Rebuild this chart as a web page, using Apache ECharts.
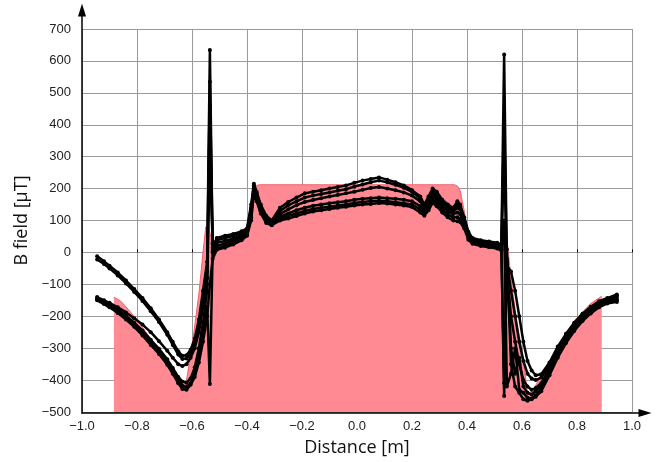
<!DOCTYPE html>
<html>
<head>
<meta charset="utf-8">
<script src="https://cdn.jsdelivr.net/npm/echarts@6/dist/echarts.min.js"></script>
<style>
  html, body { margin: 0; padding: 0; background: #fff; }
  #chart { width: 656px; height: 462px; }
</style>
</head>
<body>
<div id="chart"></div>
<script>
// shared distance positions of the measured traces [m]
const distance = [
  -0.945, -0.92, -0.90, -0.87, -0.84, -0.81, -0.78, -0.75, -0.72, -0.69, -0.67, -0.65, -0.635, -0.62, -0.605, -0.59, -0.575, -0.56, -0.545, -0.535, -0.525,
  -0.51, -0.48, -0.45, -0.42, -0.40,
  -0.385, -0.375, -0.365, -0.35, -0.33, -0.31,
  -0.28, -0.25, -0.22, -0.19, -0.16, -0.13, -0.10, -0.07, -0.04, -0.01, 0.02, 0.05, 0.08, 0.11, 0.14, 0.17, 0.20, 0.23, 0.245, 0.26, 0.275, 0.29, 0.31, 0.33, 0.35, 0.365, 0.375,
  0.39, 0.405, 0.42, 0.45, 0.48, 0.51, 0.525,
  0.535, 0.545,
  0.56, 0.575, 0.59, 0.605, 0.62, 0.635, 0.65, 0.67, 0.70, 0.73, 0.76, 0.79, 0.82, 0.85, 0.88, 0.91, 0.945
];

// B field traces [uT]
const traceA = [
  -12, -28, -42, -63, -88, -115, -143, -175, -210, -250, -280, -310, -324, -322, -305, -270, -210, -120, -30, 634, 15,
  45, 52, 58, 66, 75,
  150, 215, 190, 150, 115, 100,
  140, 158, 172, 185, 190, 195, 200, 205, 210, 218, 225, 230, 235, 228, 220, 210, 195, 175, 150, 175, 200, 190, 165, 150, 140, 160, 150,
  110, 65, 45, 38, 34, 30, 25,
  620, -40,
  -60, -120, -200, -280, -340, -370, -385, -382, -345, -295, -255, -220, -192, -170, -153, -143, -132
];
const traceB = [
  -22, -36, -50, -72, -97, -124, -152, -184, -218, -258, -290, -320, -334, -332, -318, -285, -235, -160, -60, 535, 25,
  38, 45, 52, 60, 70,
  140, 210, 185, 145, 110, 96,
  130, 148, 160, 172, 178, 183, 188, 193, 198, 206, 213, 220, 225, 220, 212, 203, 190, 170, 145, 168, 192, 182, 160, 145, 135, 150, 145,
  105, 60, 42, 35, 31, 27, 22,
  415, -30,
  -120, -200, -280, -340, -380, -395, -400, -392, -352, -302, -261, -226, -197, -175, -157, -146, -135
];
const traceC = [
  -140, -150, -158, -172, -188, -206, -226, -250, -278, -308, -330, -350, -356, -350, -330, -300, -250, -170, -80, 462, 5,
  30, 36, 44, 54, 65,
  130, 205, 175, 140, 105, 92,
  120, 135, 148, 158, 164, 170, 175, 180, 185, 190, 196, 202, 205, 200, 195, 188, 178, 160, 140, 160, 185, 175, 155, 140, 128, 140, 135,
  98, 55, 38, 32, 28, 23, 18,
  315, -60,
  -200, -280, -350, -400, -420, -430, -425, -410, -362, -310, -268, -232, -203, -180, -162, -150, -140
];
const traceD = [
  -143, -155, -164, -180, -198, -220, -245, -274, -302, -335, -362, -390, -405, -408, -395, -360, -300, -220, -120, 317, 30,
  20, 28, 38, 48, 60,
  120, 198, 170, 132, 100, 90,
  112, 122, 132, 140, 146, 150, 154, 157, 160, 165, 168, 170, 172, 170, 168, 165, 160, 145, 130, 148, 175, 165, 145, 130, 120, 125, 120,
  90, 50, 34, 28, 24, 19, 15,
  -410, 10,
  -300, -380, -330, -420, -440, -445, -435, -418, -370, -317, -274, -237, -207, -184, -166, -154, -146
];
const traceE = [
  -147, -158, -168, -186, -205, -228, -254, -283, -312, -345, -372, -400, -418, -422, -410, -380, -330, -260, -170, -412, 0,
  12, 20, 30, 42, 55,
  110, 192, 165, 128, 96, 87,
  106, 114, 122, 130, 136, 140, 143, 147, 150, 155, 158, 160, 162, 160, 157, 154, 150, 135, 122, 140, 165, 155, 135, 120, 110, 110, 105,
  82, 45, 30, 24, 20, 15, 10,
  -450, -20,
  -350, -420, -440, -460, -465, -458, -448, -428, -378, -323, -279, -242, -211, -188, -169, -157, -150
];
const traceF = [
  -150, -162, -172, -190, -210, -233, -260, -290, -318, -352, -380, -410, -428, -430, -415, -390, -345, -280, -200, -100, -20,
  8, 15, 25, 38, 52,
  100, 185, 160, 122, 92, 85,
  100, 106, 114, 122, 128, 132, 136, 140, 143, 147, 150, 152, 155, 153, 150, 147, 142, 125, 115, 132, 155, 145, 125, 110, 100, 98, 95,
  75, 40, 27, 20, 16, 12, 6,
  100, -420,
  -380, -300, -430, -440, -455, -460, -452, -435, -385, -330, -284, -246, -215, -191, -172, -160, -155
];

// simulated field envelope (pink area)
const envelopeX = [
  -0.884, -0.86, -0.83, -0.80, -0.75, -0.70, -0.66, -0.635, -0.62, -0.605, -0.59, -0.575, -0.56, -0.55, -0.54, -0.53, -0.515, -0.50, -0.45, -0.40, -0.39, -0.378, -0.365, -0.355,
  0.355, 0.365, 0.375, 0.39, 0.40, 0.41, 0.45, 0.50, 0.525, 0.54, 0.56, 0.58, 0.605, 0.618, 0.63, 0.645, 0.665, 0.70, 0.75, 0.80, 0.85, 0.89
];
const envelopeY = [
  -140, -152, -180, -212, -270, -335, -395, -428, -400, -320, -230, -130, 0, 80, 85, 40, 15, 20, 35, 50, 100, 190, 210, 212,
  212, 208, 195, 130, 70, 40, 28, 22, 20, 85, -80, -210, -335, -430, -442, -425, -392, -340, -272, -205, -160, -137
];

const traces = [traceA, traceB, traceC, traceD, traceE, traceF];

const minus = v => String(v).replace('-', '\u2212');
const labelFont = { fontFamily: 'Liberation Sans, Arial, sans-serif', fontSize: 13, color: '#222' };
const nameFont = { fontFamily: 'Open Sans, Noto Sans, sans-serif', fontSize: 18, color: '#111' };

const chart = echarts.init(document.getElementById('chart'));

const series = [{
  type: 'line',
  name: 'envelope',
  data: envelopeX.map((x, i) => [x, envelopeY[i]]),
  symbol: 'none',
  lineStyle: { color: '#f4606c', width: 1 },
  areaStyle: { color: '#ff8a93', opacity: 1, origin: 'start' },
  z: 1
}];
traces.forEach((t, k) => {
  series.push({
    type: 'line',
    name: 'trace' + (k + 1),
    data: distance.map((x, i) => [x, t[i]]),
    symbol: 'circle',
    symbolSize: 4,
    itemStyle: { color: '#000' },
    lineStyle: { color: '#000', width: 2.5 },
    z: 3
  });
});

chart.setOption({
  animation: false,
  backgroundColor: '#fff',
  grid: [
    { left: 82, right: 24, top: 29, bottom: 49 },
    { left: 82, right: 11, top: 10, bottom: 49 }
  ],
  xAxis: [{
    type: 'value', min: -1, max: 1, interval: 0.2,
    name: 'Distance [m]', nameLocation: 'middle', nameGap: 27, nameTextStyle: nameFont,
    axisLine: { show: false },
    axisTick: { show: true, inside: true, length: 3, lineStyle: { color: '#000' } },
    axisLabel: Object.assign({ margin: 8, formatter: v => minus((Math.abs(v) < 1e-9 ? 0 : v).toFixed(1)) }, labelFont),
    splitLine: { show: true, lineStyle: { color: '#9a9a9a', width: 1 } }
  }, {
    type: 'value', gridIndex: 1, min: 0, max: 1,
    axisLine: { show: true, onZero: false, symbol: ['none', 'triangle'], symbolSize: [8, 13], lineStyle: { color: '#000', width: 1.5 } },
    axisTick: { show: false }, axisLabel: { show: false }, splitLine: { show: false }
  }],
  yAxis: [{
    type: 'value', min: -500, max: 700, interval: 100,
    name: 'B field [\u00b5T]', nameLocation: 'middle', nameGap: 38, nameTextStyle: nameFont,
    axisLine: { show: false },
    axisTick: { show: false },
    axisLabel: Object.assign({ margin: 11, formatter: v => minus(v) }, labelFont),
    splitLine: { show: true, lineStyle: { color: '#9a9a9a', width: 1 } }
  }, {
    type: 'value', gridIndex: 1, min: 0, max: 1,
    axisLine: { show: true, onZero: false, symbol: ['none', 'triangle'], symbolSize: [8, 13], lineStyle: { color: '#000', width: 1.5 } },
    axisTick: { show: false }, axisLabel: { show: false }, splitLine: { show: false }
  }],
  series
});
</script>
</body>
</html>
